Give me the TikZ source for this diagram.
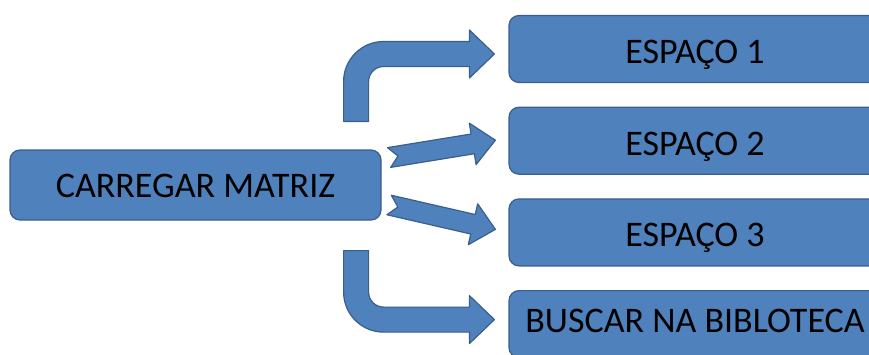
\documentclass[tikz,border=0pt]{standalone}
\usepackage{fontspec}
\setmainfont{Carlito}
\usetikzlibrary{positioning, calc}
\definecolor{fuellblau}{HTML}{4F81BD}
\definecolor{randblau}{HTML}{3A5F8B}
% Pfeil mit Kerbe von #1 nach #2
\newcommand{\kerbpfeil}[2]{%
  \coordinate (hb) at ($(#2)!23pt!(#1)$);
  \draw[blockpfeil] ($(#1)!10pt!90:(#2)$) -- ($(hb)!10pt!90:(#2)$) -- ($(hb)!21pt!90:(#2)$) -- (#2)
    -- ($(hb)!21pt!-90:(#2)$) -- ($(hb)!10pt!-90:(#2)$) -- ($(#1)!10pt!-90:(#2)$) -- ($(#1)!9pt!(#2)$) -- cycle;}

\begin{document}
\begin{tikzpicture}[x=1pt, y=1pt,
    kasten/.style={draw=randblau, fill=fuellblau, line width=1.2pt, rounded corners=10pt,
      minimum width=372pt, minimum height=67pt, inner sep=0pt, text height=29pt, text depth=0pt},
    blockpfeil/.style={draw=randblau, fill=fuellblau, line width=1.2pt, line join=round},
    font=\fontsize{36}{40}\selectfont]
  \useasboundingbox (0,0) rectangle (869,354);
  % Kästen zeichnen
  \node[kasten, minimum width=371pt, minimum height=70pt, text height=24pt] (carregar) at (195.5,169) {CARREGAR MATRIZ};
  \node[kasten] (espaco1) at (695,305) {ESPAÇO 1};
  \node[kasten, below=23.5pt of espaco1] (espaco2) {ESPAÇO 2};
  \node[kasten, below=23.5pt of espaco2] (espaco3) {ESPAÇO 3};
  \node[kasten, below=23.5pt of espaco3, text height=23pt, text depth=7pt] (buscar) {BUSCAR NA BIBLOTECA};
  % Anfangs- und Endpunkte der Pfeile
  \coordinate (a1) at ($(carregar.north east)+(-25.5,28)$);
  \coordinate (e1) at ($(espaco1.west)+(-14,-5)$);
  \coordinate (a2) at ($(carregar.east)+(7.5,27.5)$);
  \coordinate (e2) at ($(espaco2.west)+(-13,0.5)$);
  \coordinate (a3) at ($(carregar.east)+(7.5,-20)$);
  \coordinate (e3) at ($(espaco3.west)+(-13,3)$);
  \coordinate (a4) at ($(carregar.south east)+(-25.5,-30)$);
  \coordinate (e4) at ($(buscar.west)+(-14,4.5)$);
  % Pfeile zeichnen
  \draw[blockpfeil] let \p1=(a1), \p2=(e1) in
    (\x1-12.5pt,\y1) -- (\x1-12.5pt,\y2-27.5pt) arc[start angle=180, end angle=90, radius=40pt]
    -- (\x2-25pt,\y2+12.5pt) -- (\x2-25pt,\y2+24pt) -- (\x2,\y2) -- (\x2-25pt,\y2-24pt)
    -- (\x2-25pt,\y2-12.5pt) -- (\x1+27.5pt,\y2-12.5pt) arc[start angle=90, end angle=180, radius=15pt]
    -- (\x1+12.5pt,\y1) -- cycle;
  \kerbpfeil{a2}{e2}
  \kerbpfeil{a3}{e3}
  \draw[blockpfeil] let \p1=(a4), \p2=(e4) in
    (\x1-12.5pt,\y1) -- (\x1-12.5pt,\y2+27.5pt) arc[start angle=180, end angle=270, radius=40pt]
    -- (\x2-25pt,\y2-12.5pt) -- (\x2-25pt,\y2-24pt) -- (\x2,\y2) -- (\x2-25pt,\y2+24pt)
    -- (\x2-25pt,\y2+12.5pt) -- (\x1+27.5pt,\y2+12.5pt) arc[start angle=270, end angle=180, radius=15pt]
    -- (\x1+12.5pt,\y1) -- cycle;
\end{tikzpicture}
\end{document}
